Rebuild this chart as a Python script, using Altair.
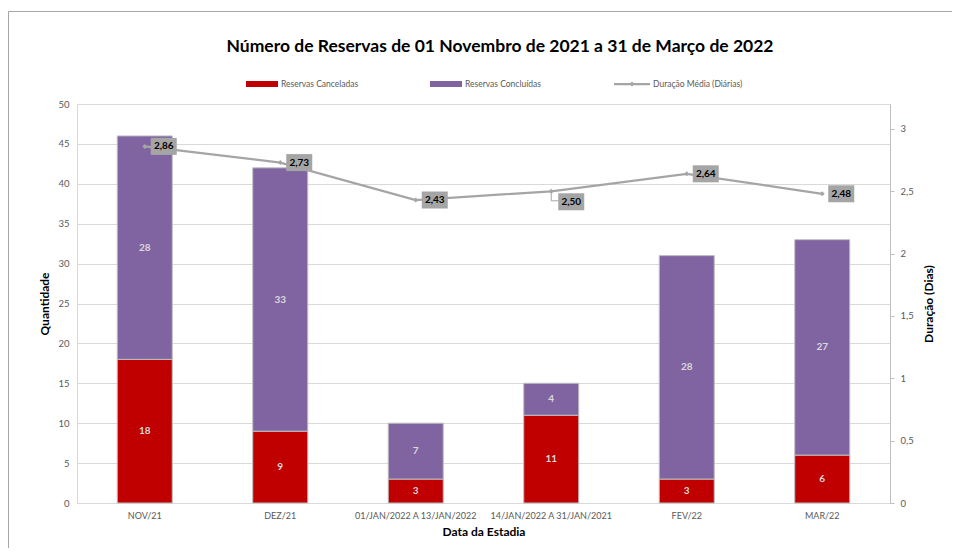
import altair as alt
import pandas as pd

categorias = ["NOV/21", "DEZ/21", "01/JAN/2022 A 13/JAN/2022", "14/JAN/2022 A 31/JAN/2021", "FEV/22", "MAR/22"]
canceladas = [18, 9, 3, 11, 3, 6]
concluidas = [28, 33, 7, 4, 28, 27]
duracao = [2.86, 2.73, 2.43, 2.50, 2.64, 2.48]

TITLE = "Número de Reservas de 01 Novembro de 2021 a 31 de Março de 2022"
FONT = "Lato"
RED = "#C00000"
PURPLE = "#8064A2"
GRAY = "#A5A5A5"

df = pd.DataFrame({"cat": categorias, "canc": canceladas, "conc": concluidas, "dur": duracao})
one = pd.DataFrame({"k": [0]})

base = alt.Chart(df).transform_calculate(
    total="datum.canc + datum.conc",
    mid_canc="datum.canc / 2",
    mid_conc="datum.canc + datum.conc / 2",
    dur_lbl="replace(format(datum.dur, '.2f'), '.', ',')",
)

xenc = alt.X(
    "cat:N", sort=categorias,
    scale=alt.Scale(paddingInner=0.594, paddingOuter=0.297),
    axis=alt.Axis(title="Data da Estadia", labelAngle=0, ticks=False, domain=True,
                  domainColor="#D9D9D9", labelColor="#595959", labelFontSize=9,
                  labelFont=FONT, labelPadding=8, titleFont=FONT, titleFontSize=12,
                  titleFontWeight="bold", titleColor="#000000", titlePadding=6),
)

yleft = alt.Scale(domain=[0, 50], nice=False)
yaxis_left = alt.Axis(title="Quantidade", values=list(range(0, 55, 5)), grid=True,
                      gridColor="#D9D9D9", ticks=False, domain=True, domainColor="#D9D9D9",
                      labelColor="#595959", labelFontSize=9.5, labelFont=FONT, labelPadding=8,
                      labelOverlap=False,
                      titleFont=FONT, titleFontSize=12, titleFontWeight="bold",
                      titleColor="#000000", titlePadding=6)

red_bars = base.mark_bar(color=RED, stroke="#BFBFBF", strokeWidth=1).encode(
    x=xenc, y=alt.Y("canc:Q", scale=yleft, axis=yaxis_left))
purple_bars = base.mark_bar(color=PURPLE, stroke="#BFBFBF", strokeWidth=1).encode(
    x=xenc, y=alt.Y("total:Q", scale=yleft, axis=yaxis_left), y2="canc:Q")
red_txt = base.mark_text(color="#D9D9D9", fontWeight="bold", fontSize=10, font=FONT).encode(
    x=xenc, y=alt.Y("mid_canc:Q", scale=yleft, axis=yaxis_left), text="canc:Q")
purple_txt = base.mark_text(color="#D9D9D9", fontWeight="bold", fontSize=10, font=FONT).encode(
    x=xenc, y=alt.Y("mid_conc:Q", scale=yleft, axis=yaxis_left), text="conc:Q")

bars = alt.layer(red_bars, purple_bars, red_txt, purple_txt)

yright = alt.Scale(domain=[0, 3.2], nice=False)
yaxis_right = alt.Axis(title="Duração (Dias)", orient="right", titleAngle=270,
                       values=[0, 0.5, 1, 1.5, 2, 2.5, 3], grid=False, ticks=True,
                       tickSize=4, tickColor="#BFBFBF", domain=True, domainColor="#BFBFBF",
                       labelExpr="replace(format(datum.value, '~g'), '.', ',')",
                       labelColor="#595959", labelFontSize=9.5, labelFont=FONT,
                       labelPadding=6, titleFont=FONT, titleFontSize=12,
                       titleFontWeight="bold", titleColor="#000000", titlePadding=22)

ydur = alt.Y("dur:Q", scale=yright, axis=yaxis_right)

line = base.mark_line(color=GRAY, strokeWidth=2.25).encode(x=xenc, y=ydur)
pts = base.mark_point(shape="diamond", filled=True, size=25, color=GRAY, opacity=1).encode(
    x=xenc, y=ydur)

normal = base.transform_filter("datum.cat != '14/JAN/2022 A 31/JAN/2021'")
special = base.transform_filter("datum.cat == '14/JAN/2022 A 31/JAN/2021'")

box_n = normal.mark_rect(width=26, height=17, xOffset=19, color=GRAY).encode(x=xenc, y=ydur)
txt_n = normal.mark_text(xOffset=19, fontWeight="bold", fontSize=10, font=FONT, color="#000000").encode(
    x=xenc, y=ydur, text="dur_lbl:N")
lead_v = special.mark_rect(width=1, height=9, yOffset=5, color=GRAY).encode(x=xenc, y=ydur)
lead_h = special.mark_rect(width=7, height=1, xOffset=3.5, yOffset=9.5, color=GRAY).encode(x=xenc, y=ydur)
box_s = special.mark_rect(width=26, height=17, xOffset=20, yOffset=10.5, color=GRAY).encode(x=xenc, y=ydur)
txt_s = special.mark_text(xOffset=20, yOffset=10.5, fontWeight="bold", fontSize=10, font=FONT, color="#000000").encode(
    x=xenc, y=ydur, text="dur_lbl:N")

lines = alt.layer(line, pts, box_n, txt_n, lead_v, lead_h, box_s, txt_s)

# page coordinates minus plot origin (77, 104)
lg = alt.Chart(one)
LFS = 8.5
legend = alt.layer(
    lg.mark_rect(fill=None, fillOpacity=0, stroke="#A6A6A6", strokeWidth=1).encode(
        x=alt.value(-68.5), x2=alt.value(1000), y=alt.value(-92.5), y2=alt.value(1000)),
    lg.mark_text(align="center", baseline="middle", fontSize=17.5, fontWeight="bold",
                 font=FONT, color="#000000").encode(
        x=alt.value(423), y=alt.value(-57), text=alt.value(TITLE)),
    lg.mark_rect(color=RED).encode(x=alt.value(169), x2=alt.value(201), y=alt.value(-23), y2=alt.value(-17)),
    lg.mark_text(align="left", baseline="middle", fontSize=LFS, font=FONT, color="#595959").encode(
        x=alt.value(204), y=alt.value(-20), text=alt.value("Reservas Canceladas")),
    lg.mark_rect(color=PURPLE).encode(x=alt.value(353), x2=alt.value(385), y=alt.value(-23), y2=alt.value(-17)),
    lg.mark_text(align="left", baseline="middle", fontSize=LFS, font=FONT, color="#595959").encode(
        x=alt.value(388), y=alt.value(-20), text=alt.value("Reservas Concluídas")),
    lg.mark_rule(color=GRAY, strokeWidth=2.25).encode(x=alt.value(537), x2=alt.value(573), y=alt.value(-20)),
    lg.mark_point(shape="diamond", filled=True, size=25, color=GRAY, opacity=1).encode(
        x=alt.value(555), y=alt.value(-20)),
    lg.mark_text(align="left", baseline="middle", fontSize=LFS, font=FONT, color="#595959").encode(
        x=alt.value(576), y=alt.value(-20), text=alt.value("Duração Média (Diárias)")),
)

chart = alt.layer(bars, lines, legend).resolve_scale(y="independent").properties(
    width=813, height=399,
    autosize=alt.AutoSizeParams(type="none"),
    padding={"left": 69, "top": 96, "right": 62, "bottom": 45},
).configure_view(stroke=None)

chart.save("out.html", embed_options={"renderer": "svg", "actions": False})
